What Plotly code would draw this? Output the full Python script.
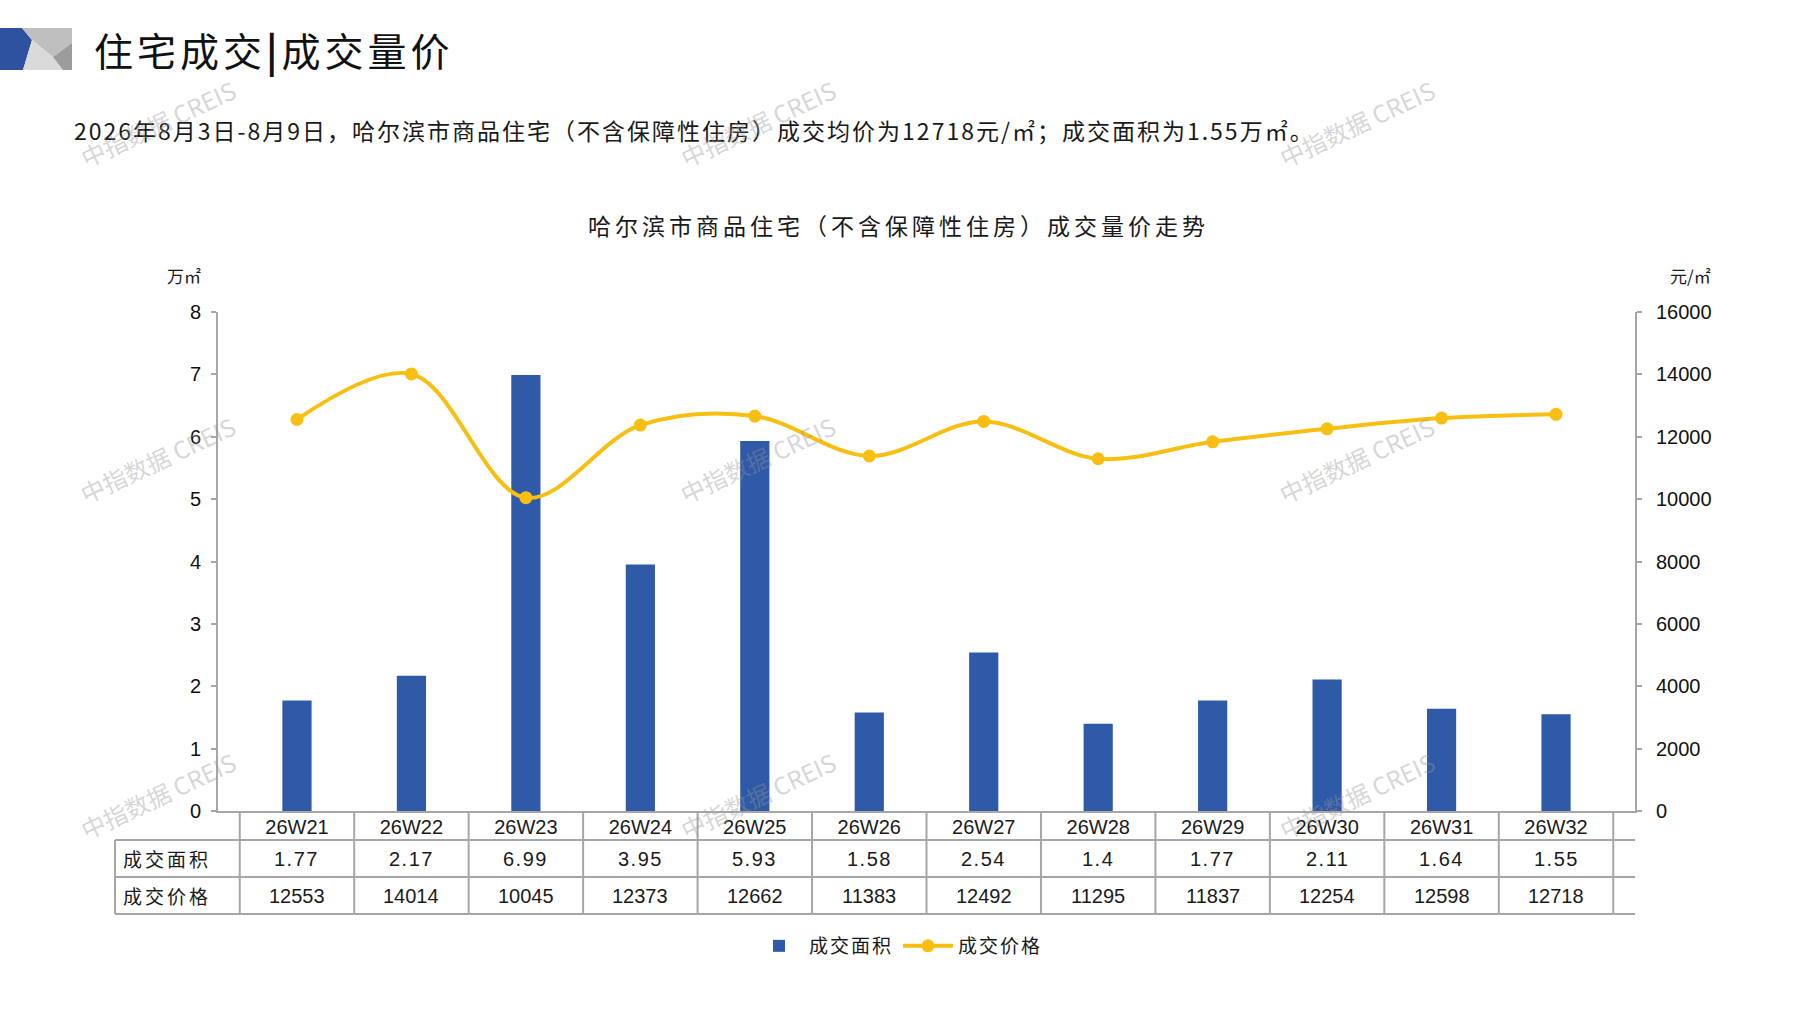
import plotly.graph_objects as go

# data
weeks = ['26W21', '26W22', '26W23', '26W24', '26W25', '26W26',
         '26W27', '26W28', '26W29', '26W30', '26W31', '26W32']
area = [1.77, 2.17, 6.99, 3.95, 5.93, 1.58, 2.54, 1.4, 1.77, 2.11, 1.64, 1.55]
price = [12553, 14014, 10045, 12373, 12662, 11383, 12492, 11295, 11837, 12254, 12598, 12718]
area_ticks = [0, 1, 2, 3, 4, 5, 6, 7, 8]
price_ticks = [0, 2000, 4000, 6000, 8000, 10000, 12000, 14000, 16000]

page_title = '住宅成交<b>|</b>成交量价'
summary = '2026年8月3日-8月9日，哈尔滨市商品住宅（不含保障性住房）成交均价为12718元/㎡；成交面积为1.55万㎡。'
chart_title = '哈尔滨市商品住宅（不含保障性住房）成交量价走势'
row_names = ['成交面积', '成交价格']
watermark = '中指数据 CREIS'

W, H = 1797, 1010
BLUE = '#2E5AA7'
GOLD = '#F8BF12'
LINE = '#A6A6A6'
INK = '#1A1A1A'
CJK = 'Noto Sans CJK SC'
NUM = 'Liberation Sans'
NARROW = 'Liberation Sans Narrow, Liberation Sans'


def px(x):
    return x / W


def py(y):
    return 1 - y / H


def spaced(text, sp):
    return '<span style="letter-spacing:%spx">%s</span>' % (sp, text)


def label(x, y, text, font, xanchor='center', textangle=0):
    return dict(x=x, y=y, xref='paper', yref='paper', xanchor=xanchor, yanchor='middle',
                text=text, showarrow=False, font=font, textangle=textangle)


fig = go.Figure()

fig.add_trace(go.Bar(
    x=weeks, y=area, name=spaced(row_names[0], 2),
    marker=dict(color=BLUE, line=dict(width=0)),
    yaxis='y', hoverinfo='x+y'
))

fig.add_trace(go.Scatter(
    x=weeks, y=price, name=spaced(row_names[1], 2),
    mode='lines+markers',
    line=dict(color=GOLD, width=4, shape='spline', smoothing=1),
    marker=dict(color=GOLD, size=13),
    yaxis='y2', hoverinfo='x+y'
))

# table under the plot: row lines, column lines, cell texts
row_top, row1, row2, row3 = 811, 840, 877, 914
tbl_left, tbl_right = 115, 1635
shapes = []
for y in (row1, row2, row3):
    shapes.append(dict(type='line', xref='paper', yref='paper',
                       x0=px(tbl_left), x1=px(tbl_right), y0=py(y), y1=py(y),
                       line=dict(color=LINE, width=2)))
shapes.append(dict(type='line', xref='paper', yref='paper',
                   x0=px(tbl_left), x1=px(tbl_left), y0=py(row1), y1=py(row3),
                   line=dict(color=LINE, width=2)))
for i in range(len(weeks) + 1):
    shapes.append(dict(type='line', xref='x', yref='paper',
                       x0=i - 0.5, x1=i - 0.5, y0=py(row_top), y1=py(row3),
                       line=dict(color=LINE, width=2)))

# logo in the top left corner
logo = [
    ('M0,28 L22,28 L32,40 L23,70 L0,70 Z', '#2F52A0'),
    ('M22,28 L72,28 L72,43 L53,57 L32,40 Z', '#BFBFBF'),
    ('M32,40 L53,57 L63,70 L23,70 Z', '#DADADA'),
    ('M53,57 L72,43 L72,70 L63,70 Z', '#9C9C9C'),
]
for path, col in logo:
    pts = []
    for tok in path.split():
        if tok == 'Z':
            pts.append('Z')
            continue
        cmd, xy = tok[0], tok[1:]
        x, y = xy.split(',')
        pts.append('%s%.5f,%.5f' % (cmd, px(float(x)), py(float(y))))
    shapes.append(dict(type='path', xref='paper', yref='paper', path=' '.join(pts),
                       fillcolor=col, line=dict(width=0), layer='above'))

annotations = []
cell_font = dict(family=NUM, size=20, color=INK)
for i, w in enumerate(weeks):
    annotations.append(dict(x=w, xref='x', y=py((row1 + row2) / 2), yref='paper',
                            xanchor='center', yanchor='middle',
                            text=spaced(str(area[i]), 1.5), showarrow=False, font=cell_font))
    annotations.append(dict(x=w, xref='x', y=py((row2 + row3) / 2), yref='paper',
                            xanchor='center', yanchor='middle',
                            text=str(price[i]), showarrow=False, font=cell_font))
for k, name in enumerate(row_names):
    yc = (row1 + row2) / 2 if k == 0 else (row2 + row3) / 2
    annotations.append(label(px((tbl_left + 218) / 2), py(yc), spaced(name, 3),
                             dict(family=CJK, size=19, color=INK)))

# texts above the plot
annotations += [
    label(px(92), py(49), spaced(page_title, 4),
          dict(family=CJK, size=39, color='#111111'), xanchor='left'),
    label(px(72), py(130), spaced(summary, 2),
          dict(family=CJK, size=23, color=INK), xanchor='left'),
    label(0.5, py(225), spaced(chart_title, 4), dict(family=CJK, size=23, color=INK)),
    label(px(184), py(275), '万㎡', dict(family=CJK, size=17, color=INK)),
    label(px(1690), py(275), '元/㎡', dict(family=CJK, size=17, color=INK)),
]

# watermarks
for wx in (157, 757, 1356):
    for wy in (123, 460, 795):
        annotations.append(label(px(wx), py(wy), watermark,
                                 dict(family=CJK, size=24, color='rgba(150,150,150,0.4)'),
                                 textangle=-25))

axis_font = dict(family=NUM, size=20, color='#111111')
fig.update_layout(
    width=W, height=H,
    margin=dict(l=0, r=0, t=0, b=0, autoexpand=False),
    paper_bgcolor='white', plot_bgcolor='white',
    bargap=0.745,
    showlegend=True,
    legend=dict(orientation='h', x=0.5, xanchor='center', y=py(946), yanchor='middle',
                font=dict(family=CJK, size=19, color=INK), itemwidth=50,
                bgcolor='rgba(0,0,0,0)'),
    xaxis=dict(domain=[px(218), px(1635)], type='category', automargin=False,
               showline=True, linecolor=LINE, linewidth=2,
               ticks='', showgrid=False, zeroline=False,
               tickfont=dict(family=NARROW, size=20, color=INK),
               ticklabelstandoff=-3),
    yaxis=dict(domain=[py(811), py(312)], range=[0, 8], tickvals=area_ticks,
               automargin=False,
               showline=True, linecolor=LINE, linewidth=2,
               ticks='outside', ticklen=5, tickcolor=LINE, tickwidth=2,
               showgrid=False, zeroline=False, tickfont=axis_font,
               ticklabelstandoff=6),
    yaxis2=dict(overlaying='y', side='right', anchor='x', range=[0, 16000],
                tickvals=price_ticks, tickformat='d', automargin=False,
                showline=True, linecolor=LINE, linewidth=2,
                ticks='outside', ticklen=5, tickcolor=LINE, tickwidth=2,
                showgrid=False, zeroline=False, tickfont=axis_font,
                ticklabelstandoff=10),
    shapes=shapes,
    annotations=annotations,
)

fig.write_html('out.html', config={'displayModeBar': False},
               post_script="document.body.style.margin='0';")
